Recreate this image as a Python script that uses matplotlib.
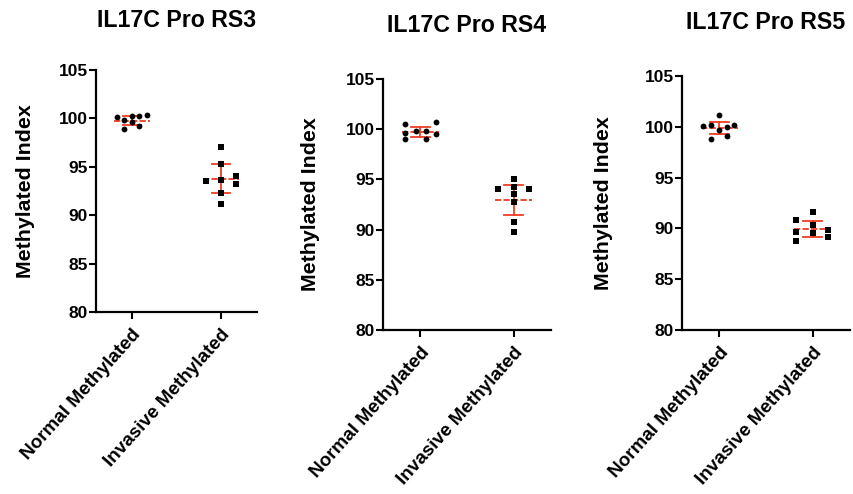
import matplotlib
matplotlib.use("Agg")
import matplotlib.pyplot as plt
import numpy as np

plt.rcParams['font.family'] = ['Liberation Sans', 'DejaVu Sans']
plt.rcParams['font.weight'] = 'bold'

titles = ["IL17C Pro RS3", "IL17C Pro RS4", "IL17C Pro RS5"]
categories = ["Normal Methylated", "Invasive Methylated"]
y_label = "Methylated Index"
y_ticks = [80, 85, 90, 95, 100, 105]

# values
rs3_normal = [100.1, 99.8, 98.9, 100.2, 99.6, 100.2, 99.2, 100.4]
rs3_normal_jit = [-0.167, -0.083, -0.083, 0.0, 0.0, 0.083, 0.083, 0.167]
rs3_invasive = [97.0, 95.3, 93.5, 93.6, 94.0, 93.2, 92.3, 91.2]
rs3_invasive_jit = [0.0, 0.0, -0.167, 0.0, 0.167, 0.167, 0.0, 0.0]
rs3_mean = [99.77, 93.77]
rs3_sd = [0.48, 1.5]

rs4_normal = [100.5, 99.6, 99.0, 99.8, 99.8, 99.0, 100.7, 99.5]
rs4_normal_jit = [-0.16, -0.16, -0.16, -0.05, 0.06, 0.06, 0.17, 0.17]
rs4_invasive = [95.0, 94.25, 93.55, 92.75, 94.0, 94.0, 90.8, 89.8]
rs4_invasive_jit = [0.0, 0.0, 0.0, 0.0, -0.165, 0.165, 0.0, 0.0]
rs4_mean = [99.73, 92.97]
rs4_sd = [0.5, 1.52]

rs5_normal = [100.1, 100.16, 98.82, 101.12, 99.67, 99.97, 99.08, 100.2]
rs5_normal_jit = [-0.17, -0.09, -0.09, 0.0, 0.0, 0.08, 0.08, 0.16]
rs5_invasive = [90.8, 89.6, 88.8, 91.6, 90.3, 89.5, 89.8, 89.2]
rs5_invasive_jit = [-0.175, -0.175, -0.175, 0.0, 0.0, 0.0, 0.16, 0.16]
rs5_mean = [99.87, 89.93]
rs5_sd = [0.6, 0.75]

panels = [
    (rs3_normal, rs3_normal_jit, rs3_invasive, rs3_invasive_jit, rs3_mean, rs3_sd),
    (rs4_normal, rs4_normal_jit, rs4_invasive, rs4_invasive_jit, rs4_mean, rs4_sd),
    (rs5_normal, rs5_normal_jit, rs5_invasive, rs5_invasive_jit, rs5_mean, rs5_sd),
]

# layout (figure fractions)
rects = [
    [0.1124, 0.3684, 0.1885, 0.4899],
    [0.4485, 0.3320, 0.1967, 0.5081],
    [0.7986, 0.3320, 0.1967, 0.5142],
]
title_pads = [31, 34, 34]
ylabel_x = [-0.379, -0.375, -0.41]

RED = '#EE3B24'

fig = plt.figure(figsize=(8.54, 4.94), dpi=100)
for i, (nv, nj, iv, ij, mean, sd) in enumerate(panels):
    ax = fig.add_axes(rects[i])
    # error bars (behind points)
    for g in range(2):
        m, s = mean[g], sd[g]
        ax.plot([g - 0.2, g + 0.2], [m, m], color=RED, lw=1.3,
                dashes=(3.5, 1.2), zorder=2, solid_capstyle='butt')
        ax.plot([g, g], [m - s, m + s], color=RED, lw=1.3, zorder=2)
        ax.plot([g - 0.1, g + 0.1], [m + s, m + s], color=RED, lw=1.3, zorder=2)
        ax.plot([g - 0.1, g + 0.1], [m - s, m - s], color=RED, lw=1.3, zorder=2)
    ax.plot(0 + np.array(nj), nv, 'o', color='black', ms=4.2, mew=0, zorder=3)
    ax.plot(1 + np.array(ij), iv, 's', color='black', ms=5.0, mew=0, zorder=3)

    ax.set_xlim(-0.4, 1.4)
    ax.set_ylim(80, 105)
    ax.set_yticks(y_ticks)
    ax.set_yticklabels([str(t) for t in y_ticks], fontsize=12.5, fontweight='bold')
    ax.set_xticks([0, 1])
    ax.set_xticklabels(categories, rotation=48, ha='right', va='top',
                       rotation_mode='anchor', fontsize=13.6, fontweight='bold')
    ax.tick_params(axis='y', length=5, width=1.5, pad=1)
    ax.tick_params(axis='x', length=5, width=1.5, pad=5)
    for sp in ['top', 'right']:
        ax.spines[sp].set_visible(False)
    for sp in ['left', 'bottom']:
        ax.spines[sp].set_linewidth(1.6)
    ax.set_ylabel(y_label, fontsize=15.4, fontweight='bold')
    ax.yaxis.set_label_coords(ylabel_x[i], 0.5)
    ax.set_title(titles[i], fontsize=16.7, fontweight='bold', pad=title_pads[i])

fig.savefig("out.png", dpi=100)
